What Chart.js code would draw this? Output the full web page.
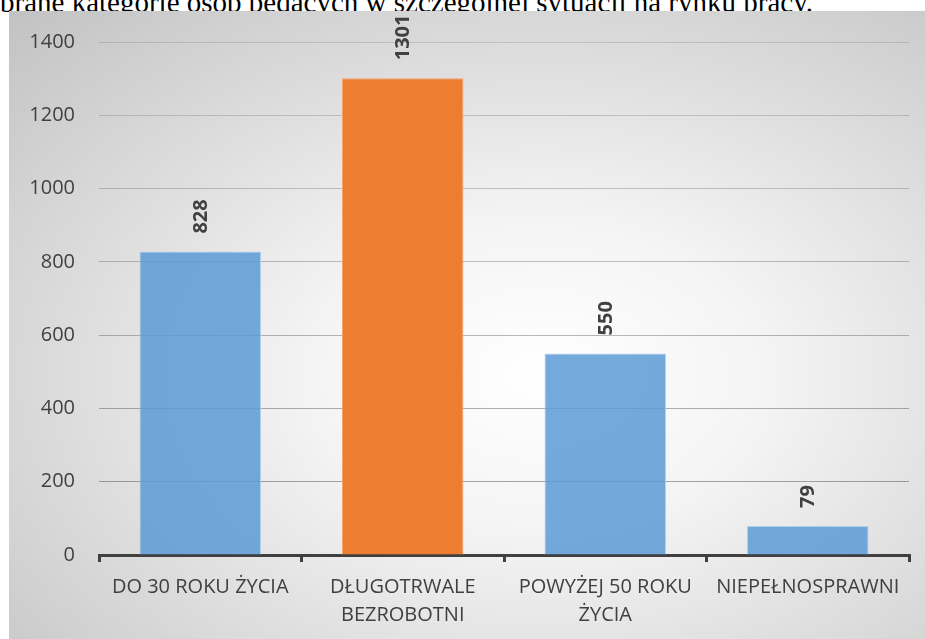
<!DOCTYPE html>
<html>
<head>
<meta charset="utf-8">
<script src="https://cdn.jsdelivr.net/npm/chart.js@4"></script>
<style>
    html, body { margin: 0; padding: 0; background: #fff; overflow: hidden; }
    #caption {
        position: absolute; left: 0; top: -14px;
        font: 29px "Liberation Serif", "DejaVu Serif", serif;
        color: #000; white-space: nowrap;
    }
    #box {
        position: absolute; left: 9px; top: 11px; width: 916px; height: 628px;
        background: radial-gradient(farthest-corner at 58% 58%, #ffffff 0%, #f4f4f4 30%, #c2c2c2 100%);
    }
    #chart { position: absolute; left: 0; top: -5px; }
</style>
</head>
<body>
<div id="caption">brane kategorie osób będących w szczególnej sytuacji na rynku pracy.</div>
<div id="box"><canvas id="chart" width="916" height="633"></canvas></div>
<script>
    'use strict';

    var categories = [
        'DO 30 ROKU ŻYCIA',
        ['DŁUGOTRWALE', 'BEZROBOTNI'],
        ['POWYŻEJ 50 ROKU', 'ŻYCIA'],
        'NIEPEŁNOSPRAWNI'
    ];
    var values = [828, 1301, 550, 79];
    var barColors = ['rgba(91,155,213,0.85)', '#ED7D31', 'rgba(91,155,213,0.85)', 'rgba(91,155,213,0.85)'];
    var barEdges = ['rgba(170,205,238,0.9)', '#F5A46E', 'rgba(170,205,238,0.9)', 'rgba(170,205,238,0.9)'];
    var yMin = 0, yMax = 1400, yStep = 200;

    var textColor = '#404040';

    // rotated value labels above each bar
    var valueLabels = {
        id: 'valueLabels',
        afterDatasetsDraw: function(chart) {
            var ctx = chart.ctx;
            var meta = chart.getDatasetMeta(0);
            ctx.save();
            ctx.font = 'bold 20px "Open Sans"';
            ctx.fillStyle = textColor;
            ctx.textAlign = 'left';
            ctx.textBaseline = 'middle';
            meta.data.forEach(function(bar, i) {
                ctx.save();
                ctx.translate(bar.x, bar.y - 18);
                ctx.rotate(-Math.PI / 2);
                ctx.fillText(String(values[i]), 0, 1);
                ctx.restore();
            });
            ctx.restore();
        }
    };

    new Chart(document.getElementById('chart').getContext('2d'), {
        type: 'bar',
        data: {
            labels: categories,
            datasets: [{
                data: values,
                backgroundColor: barColors,
                borderColor: barEdges,
                borderWidth: 1,
                barPercentage: 0.6,
                categoryPercentage: 1.0
            }]
        },
        options: {
            responsive: false,
            animation: false,
            layout: { padding: { top: 0, right: 16, left: 0, bottom: 0 } },
            plugins: {
                legend: { display: false },
                tooltip: { enabled: false }
            },
            scales: {
                y: {
                    min: yMin,
                    max: yMax,
                    ticks: {
                        stepSize: yStep,
                        padding: 24,
                        color: textColor,
                        font: { family: 'Open Sans', size: 20 },
                        callback: function(v) { return String(v); }
                    },
                    grid: {
                        drawTicks: false,
                        lineWidth: 1,
                        color: function(c) {
                            var v = c.tick ? c.tick.value : 0;
                            var a = 0.2 + 0.35 * (1 - v / yMax);
                            return 'rgba(80,80,80,' + a.toFixed(2) + ')';
                        }
                    },
                    border: { display: false },
                    afterFit: function(scale) { scale.width = 90; }
                },
                x: {
                    ticks: {
                        padding: 11,
                        color: textColor,
                        maxRotation: 0,
                        autoSkip: false,
                        font: { family: 'Open Sans', size: 20, lineHeight: 1.4 }
                    },
                    grid: {
                        drawOnChartArea: false,
                        drawTicks: true,
                        tickLength: 7,
                        lineWidth: 3,
                        color: textColor
                    },
                    border: { display: true, color: textColor, width: 3 },
                    afterFit: function(scale) { scale.height = 84; }
                }
            }
        },
        plugins: [valueLabels]
    });
</script>
</body>
</html>
